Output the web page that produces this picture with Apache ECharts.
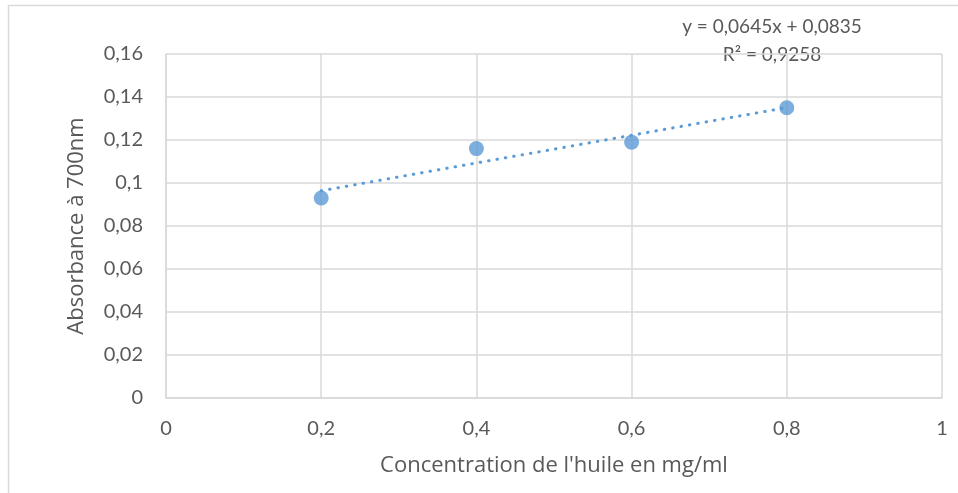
<!DOCTYPE html>
<html><head><meta charset="utf-8">
<script src="https://cdn.jsdelivr.net/npm/echarts@6/dist/echarts.min.js"></script>
<style>html,body{margin:0;padding:0;background:#fff}#c{width:958px;height:493px}</style>
</head><body><div id="c"></div>
<script>
const concentrations = [0.2, 0.4, 0.6, 0.8];
const absorbances = [0.093, 0.116, 0.119, 0.135];
const slope = 0.0645, intercept = 0.0835;
const equationLines = ['y = 0,0645x + 0,0835', 'R² = 0,9258'];
const xTitle = "Concentration de l'huile en mg/ml";
const yTitle = 'Absorbance à 700nm';

const FONT = 'Lato';
const TFONT = 'Open Sans';
const fmt = v => String(+v.toFixed(2)).replace('.', ',');
const trendX = [concentrations[0], concentrations[concentrations.length - 1]];
const trend = trendX.map(x => [x, slope * x + intercept]);

const chart = echarts.init(document.getElementById('c'));
chart.setOption({
  animation: false,
  grid: {left: 166, right: 16, top: 54, bottom: 95, containLabel: false},
  xAxis: {
    type: 'value', min: 0, max: 1, interval: 0.2,
    name: xTitle, nameLocation: 'middle', nameGap: 57,
    nameTextStyle: {color: '#595959', fontSize: 22, fontFamily: TFONT},
    axisLine: {show: true, lineStyle: {color: '#d9d9d9', width: 1.5}},
    axisTick: {show: false},
    axisLabel: {color: '#595959', fontSize: 20, fontFamily: FONT, margin: 21, formatter: fmt},
    splitLine: {show: true, lineStyle: {color: '#d9d9d9', width: 1.5}}
  },
  yAxis: {
    type: 'value', min: 0, max: 0.16, interval: 0.02,
    name: yTitle, nameLocation: 'middle', nameGap: 78, nameRotate: 90,
    nameTextStyle: {color: '#595959', fontSize: 22, fontFamily: TFONT},
    axisLine: {show: true, lineStyle: {color: '#d9d9d9', width: 1.5}},
    axisTick: {show: false},
    axisLabel: {color: '#595959', fontSize: 20, fontFamily: FONT, margin: 23, formatter: fmt},
    splitLine: {show: true, lineStyle: {color: '#d9d9d9', width: 1.5}}
  },
  graphic: [
    {type: 'rect', shape: {x: 8.5, y: 5.5, width: 1000, height: 600}, style: {fill: 'none', stroke: '#d9d9d9', lineWidth: 1.5}, z: -1},
    {type: 'text', x: 772, y: 27, style: {text: equationLines[0], fill: '#595959', font: '19px ' + FONT, textAlign: 'center', textVerticalAlign: 'middle'}},
    {type: 'text', x: 772, y: 55, style: {text: equationLines[1], fill: '#595959', font: '19px ' + FONT, textAlign: 'center', textVerticalAlign: 'middle'}}
  ],
  series: [
    {
      type: 'line', data: trend, showSymbol: false, symbol: 'none',
      lineStyle: {color: '#5b9bd5', width: 3, type: [0.5, 8], cap: 'round'}, z: 2
    },
    {
      type: 'scatter', data: concentrations.map((x, i) => [x, absorbances[i]]),
      symbol: 'circle', symbolSize: 15,
      itemStyle: {color: '#5b9bd5'}, z: 3
    }
  ]
});
</script></body></html>
